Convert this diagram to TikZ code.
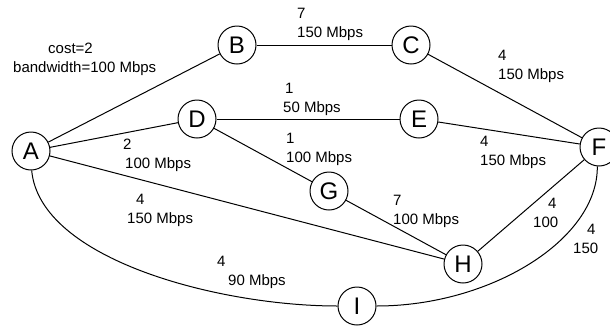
\documentclass[tikz,border=0pt]{standalone}
\usepackage{fontspec}
\setmainfont{Liberation Sans}
\usetikzlibrary{positioning}
\tikzset{
  router/.style={draw, circle, line width=1pt, minimum size=38pt, inner sep=0pt, fill=white,
    font=\fontsize{24}{28}\selectfont},
  link/.style={line width=1pt},
  lbl/.style={anchor=base west, align=left, inner sep=0pt, font=\fontsize{15}{18.5}\selectfont},
}
\begin{document}
\begin{tikzpicture}[x=1pt, y=-1pt]
    \useasboundingbox (0,0) rectangle (610,325);
    \node[router] (A) at (31,151) {A};
    \node[router] (B) at (237,45) {B};
    \node[router] (C) at (411,45) {C};
    \node[router] (D) at (197,119) {D};
    \node[router] (E) at (419,119) {E};
    \node[router] (F) at (599,147) {F};
    \node[router] (G) at (329,191) {G};
    \node[router] (H) at (463,264) {H};
    \node[router] (I) at (357,306) {I};
    \draw[link] (A) -- (B);
    \draw[link] (A) -- (D);
    \draw[link] (A) -- (H);
    \draw[link] (B) -- (C);
    \draw[link] (C) -- (F);
    \draw[link] (D) -- (E);
    \draw[link] (E) -- (F);
    \draw[link] (D) -- (G);
    \draw[link] (G) -- (H);
    \draw[link] (H) -- (F);
    \draw[link] (A.-88) .. controls (40,260) and (220,306) .. (I.west);
    \draw[link] (I.east) .. controls (490,306) and (598,240) .. (F.-95);
    \node[lbl] (lAB) at (13,72) {\hspace{35pt}cost=2\\bandwidth=100 Mbps};
    \node[lbl] (lBC) at (297,37) {7\\150 Mbps};
    \node[lbl] (lCF) at (498,79) {4\\150 Mbps};
    \node[lbl] (lDE) at (283,112) {\hspace{2pt}1\\50 Mbps};
    \node[lbl] (lDG) at (286,162) {1\\100 Mbps};
    \node[lbl] (lEF) at (480,165) {4\\150 Mbps};
    \node[lbl] (lAD) at (123,168) {2\\\hspace{2pt}100 Mbps};
    \node[lbl] (lAH) at (127,223) {\hspace{9pt}4\\150 Mbps};
    \node[lbl] (lAI) at (217,285) {4\\\hspace{11pt}90 Mbps};
    \node[lbl] (lGH) at (393,224) {7\\100 Mbps};
    \node[lbl] (lHF) at (533,227) {\hspace{15pt}4\\100};
    \node[lbl] (lIF) at (573,253) {\hspace{14pt}4\\150};
\end{tikzpicture}
\end{document}
